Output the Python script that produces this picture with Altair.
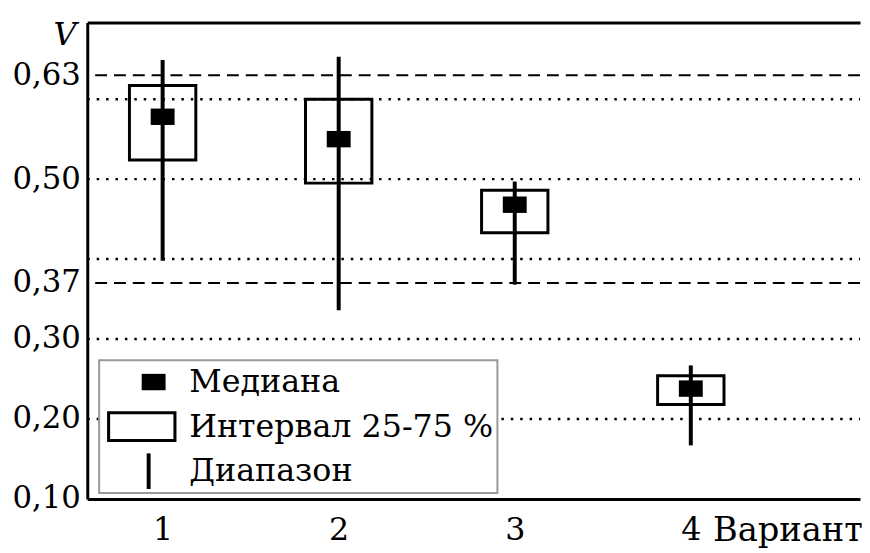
import altair as alt
import pandas as pd

# ---- data ----
variants = [1, 2, 3, 4]
med = [0.578, 0.550, 0.468, 0.238]
q1 = [0.524, 0.495, 0.433, 0.218]
q3 = [0.617, 0.600, 0.486, 0.254]
lo = [0.398, 0.336, 0.368, 0.167]
hi = [0.649, 0.653, 0.497, 0.267]

dotted_levels = [0.20, 0.30, 0.40, 0.50, 0.60]
dashed_levels = [0.37, 0.63]
y_ticks = [0.10, 0.20, 0.30, 0.37, 0.50, 0.63]
x_ticks = [1, 2, 3, 4]

kinds = ["Медиана", "Интервал 25-75 %", "Диапазон"]
shape_paths = [
    "M-0.67,-0.46H0.67V0.46H-0.67Z",
    "M-2.61,-0.86H1.28V0.86H-2.61Z M-2.44,-0.69V0.69H1.11V-0.69Z",
    "M-0.39,-1H-0.17V1H-0.39Z",
]

df = pd.DataFrame({"variant": variants, "med": med, "q1": q1, "q3": q3,
                   "lo": lo, "hi": hi, "kind": [kinds[0]] * len(variants)})
dotted_df = pd.DataFrame({"level": dotted_levels})
dashed_df = pd.DataFrame({"level": dashed_levels})

FONT = "DejaVu Serif"
FS_Y = 31
FS_X = 32
FS_LEG = 32

x_scale = alt.Scale(domain=[0.6, 4.933], nice=False, zero=False)
y_scale = alt.Scale(domain=[0.10, 0.696], nice=False, zero=False)

y_axis = alt.Axis(
    values=y_ticks, title="V", titleAngle=0, titleFontStyle="italic",
    titleFont=FONT, titleFontSize=32, titleFontWeight="normal", titleColor="black",
    titleX=-23, titleY=22, titleAlign="center", titleBaseline="alphabetic",
    labelExpr="replace(format(datum.value, '.2f'), '.', ',')",
    labelFont=FONT, labelFontSize=FS_Y, labelColor="black", labelPadding=7,
    labelOverlap=False, ticks=False, tickSize=0, grid=False,
    domainColor="black", domainWidth=3,
)

x_axis_bottom = alt.Axis(
    values=x_ticks, format="d", title="Вариант", titleFont=FONT, titleFontSize=34,
    titleFontWeight="normal", titleColor="black", titleX=631, titleY=15,
    titleAlign="left", titleBaseline="top",
    labelFont=FONT, labelFontSize=FS_X, labelColor="black", labelPadding=16,
    labelBaseline="top", labelFlush=False, labelOverlap=False,
    ticks=False, tickSize=0, grid=False, domainColor="black", domainWidth=3,
)
x_axis_top = alt.Axis(
    orient="top", labels=False, ticks=False, tickSize=0, title=None, grid=False,
    domainColor="black", domainWidth=3,
)

dotted = alt.Chart(dotted_df).mark_rule(
    color="black", strokeWidth=2.5, strokeDash=[2.5, 7], strokeDashOffset=1.5
).encode(y=alt.Y("level:Q", scale=y_scale, axis=y_axis))

dashed = alt.Chart(dashed_df).mark_rule(
    color="black", strokeWidth=2, strokeDash=[12, 7]
).encode(y=alt.Y("level:Q", scale=y_scale, axis=y_axis))

boxes = alt.Chart(df).mark_bar(
    size=67, fill="white", fillOpacity=0, stroke="black", strokeWidth=3
).encode(
    x=alt.X("variant:Q", scale=x_scale, axis=x_axis_top),
    y=alt.Y("q1:Q", scale=y_scale, axis=y_axis),
    y2="q3:Q",
)

whiskers = alt.Chart(df).mark_rule(color="black", strokeWidth=4).encode(
    x=alt.X("variant:Q", scale=x_scale, axis=x_axis_bottom),
    y=alt.Y("lo:Q", scale=y_scale, axis=y_axis),
    y2="hi:Q",
)

medians = alt.Chart(df).mark_point(
    filled=True, color="black", size=1296, strokeWidth=0, opacity=1
).encode(
    x=alt.X("variant:Q", scale=x_scale, axis=None),
    y=alt.Y("med:Q", scale=y_scale, axis=y_axis),
    shape=alt.Shape(
        "kind:N",
        scale=alt.Scale(domain=kinds, range=shape_paths),
        legend=alt.Legend(
            title=None, orient="none", legendX=12, legendY=341,
            labelFont=FONT, labelFontSize=FS_LEG, labelColor="black", labelLimit=0,
            symbolSize=1296, symbolStrokeWidth=0, symbolFillColor="black",
            symbolOpacity=1, symbolOffset=33, labelOffset=18,
            padding=4, rowPadding=11, fillColor="white", strokeColor="#999999",
        ),
    ),
)

chart = alt.layer(dotted, dashed, boxes, whiskers, medians).resolve_axis(
    x="independent"
).properties(
    width=780, height=481,
    autosize=alt.AutoSizeParams(type="none"),
    padding={"left": 80, "top": 12, "right": 2, "bottom": 52},
).configure_view(stroke=None).configure_legend(strokeWidth=2)

chart.save("out.html", embed_options={"renderer": "svg", "actions": False})
